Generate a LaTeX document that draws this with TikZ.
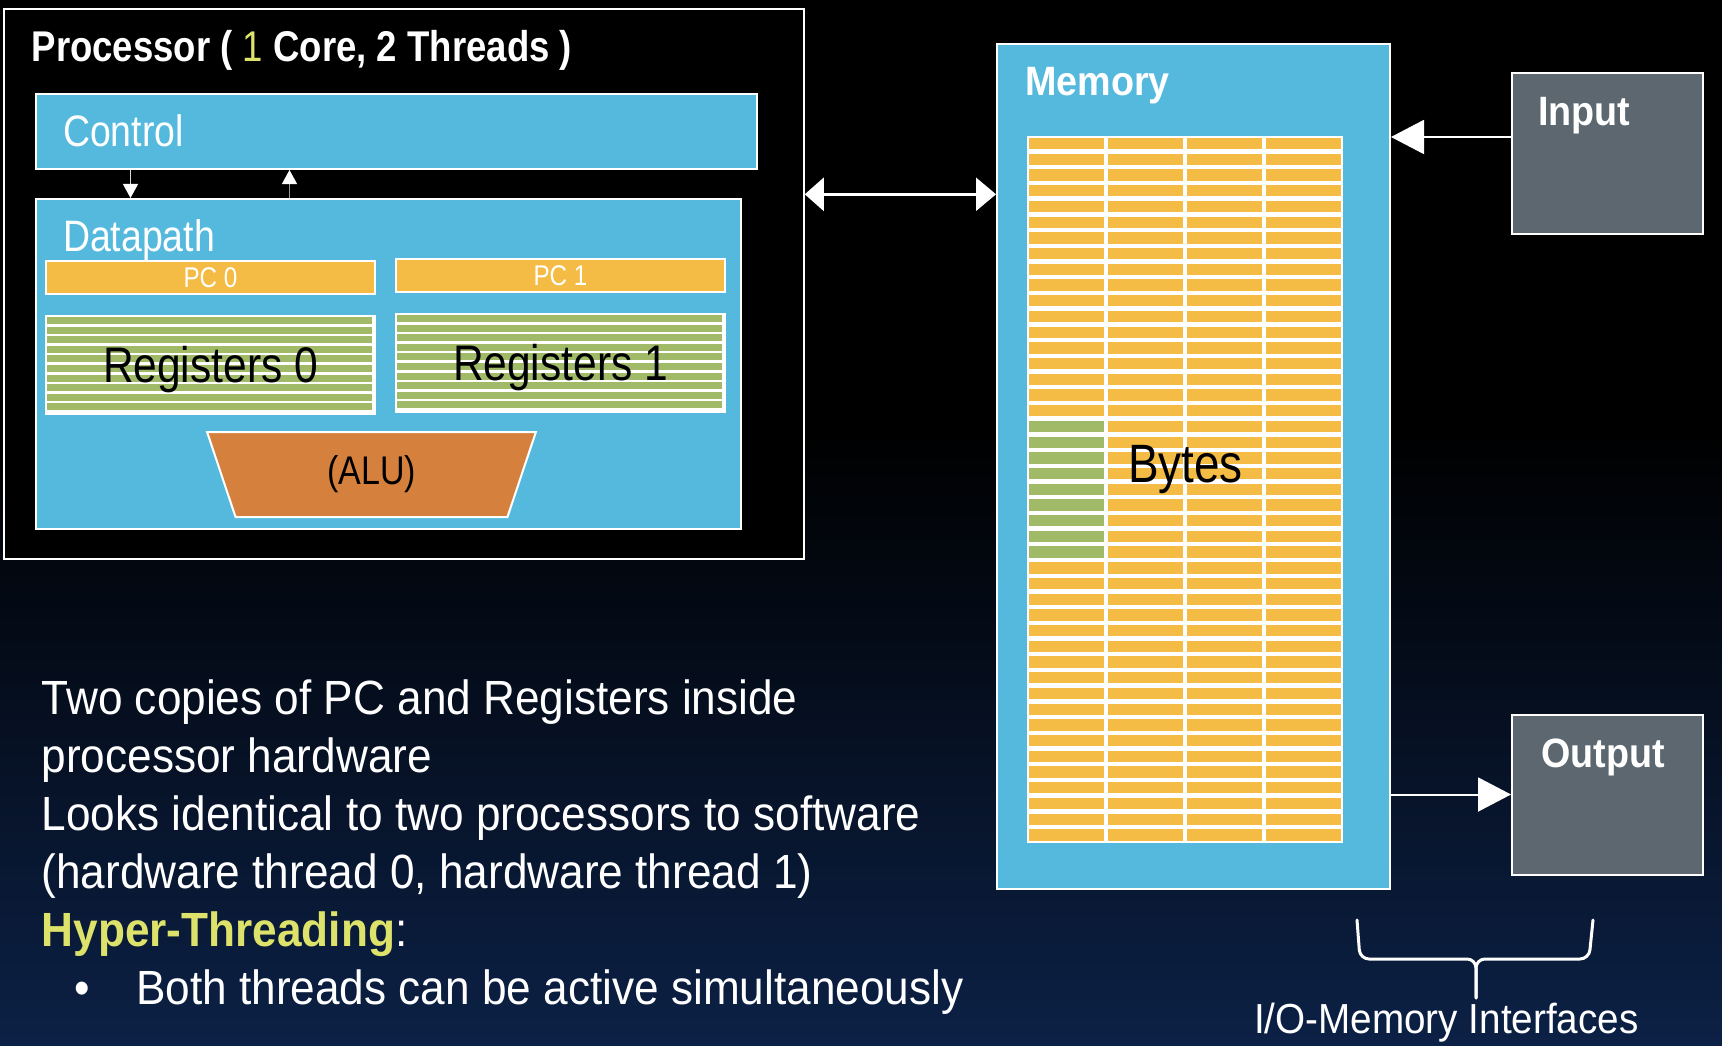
\documentclass[tikz,border=0pt]{standalone}
\usepackage{fontspec}
\setmainfont{Liberation Sans}[FakeStretch=0.92]
\newfontfamily\narrowfont{Liberation Sans}[FakeStretch=0.85]
\usepackage{xcolor}
\usetikzlibrary{shapes.geometric, arrows.meta, positioning}

\definecolor{boxblue}{RGB}{85,185,222}
\definecolor{cellorange}{RGB}{244,188,69}
\definecolor{reggreen}{RGB}{160,186,104}
\definecolor{aluorange}{RGB}{213,128,61}
\definecolor{iogray}{RGB}{92,103,112}
\definecolor{hyperyellow}{RGB}{221,226,106}
\definecolor{bgnavy}{RGB}{12,33,70}

\begin{document}
\begin{tikzpicture}[x=1pt, y=-1pt,
            hwbox/.style={draw=white, line width=2pt, rectangle, inner sep=0pt},
            bluebox/.style={hwbox, fill=boxblue},
            pcbox/.style={hwbox, fill=cellorange, minimum width=329pt, minimum height=33pt, text=white, font=\narrowfont\fontsize{28.5}{32}\selectfont},
            regbox/.style={hwbox, fill=white, minimum width=329pt, minimum height=98pt},
            iobox/.style={hwbox, fill=iogray, minimum width=191pt, minimum height=160pt},
            alubox/.style={hwbox, fill=aluorange, trapezium, trapezium angle=76, shape border rotate=180, trapezium stretches=true, minimum width=329pt, minimum height=85pt, text=black, font=\narrowfont\fontsize{40}{44}\selectfont},
            boxlabel/.style={anchor=base west, inner sep=0pt, text=white, font=\narrowfont\fontsize{44}{50}\selectfont},
            titlelabel/.style={boxlabel, font=\narrowfont\fontsize{43}{48}\selectfont\bfseries},
            iolabel/.style={boxlabel, font=\fontsize{41}{48}\selectfont\bfseries},
            regtext/.style={anchor=base, inner sep=0pt, text=black, font=\narrowfont\fontsize{50}{56}\selectfont},
            notetext/.style={anchor=base west, inner sep=0pt, text=white, font=\fontsize{48}{58}\selectfont},
            ctrlarrow/.style={line width=1.2pt, -{Triangle[length=14pt, width=15pt, color=white]}},
            busarrow/.style={draw=white, line width=2.5pt, {Triangle[length=19pt, width=33pt]}-{Triangle[length=20pt, width=33pt]}},
            ioarrow/.style={draw=white, line width=2pt, -{Triangle[length=33pt, width=34pt]}},
            bracepath/.style={draw=white, line width=3pt, rounded corners=9pt, line cap=round}]

            % Background
            \useasboundingbox (0,0) rectangle (1722,1046);
            \fill[black] (0,0) rectangle (1722,1046);
            \shade[top color=black, bottom color=bgnavy] (0,430) rectangle (1722,1046);

            % Processor
            \node (proc) [hwbox, line width=1.5pt, fill=black, minimum width=800pt, minimum height=550pt] at (404,284) {};
            \node (control) [bluebox, minimum width=721pt, minimum height=74.5pt] at (396,131.75) {};
            \node (datapath) [bluebox, minimum width=705pt, minimum height=330pt] at (388,364) {};
            \node (pc0) [pcbox] at (210.5,277.5) {PC 0};
            \node (pc1) [pcbox, right=19pt of pc0, yshift=2pt] {PC 1};
            \node (reg0) [regbox, below=20pt of pc0] {};
            \node (reg1) [regbox, below=20pt of pc1] {};
            \foreach \reg in {reg0, reg1}
                \foreach \k in {0,...,9}
                    \fill[reggreen] ([shift={(2, 2+\k*9.6)}]\reg.north west) rectangle ++(325, 7);
            \node (reg0text) [regtext] at ([yshift=-17.5pt]reg0.center) {Registers 0};
            \node (reg1text) [regtext] at ([yshift=-17pt]reg1.center) {Registers 1};
            \node (alu) [alubox] at (371.5,474.5) {(ALU)};

            \node (proctitle) [titlelabel] at (31.5,62) {Processor ( {\mdseries\color{hyperyellow}1} Core, 2 Threads )};
            \node (controltext) [boxlabel] at (63,147) {Control};
            \node (datapathtext) [boxlabel] at (63,251) {Datapath};

            % Memory
            \node (memory) [bluebox, minimum width=393pt, minimum height=845pt] at (1193.5,466.5) {};
            \node (cells) [fill=white, inner sep=0pt, minimum width=316pt, minimum height=707pt] at (1185,489.5) {};
            \foreach \c in {0,...,3}
                \foreach \r in {0,...,44}
                    \fill[cellorange] ([shift={(2+\c*79, 2.2+\r*15.711)}]cells.north west) rectangle ++(75, 11.3);
            \foreach \r in {18,...,26}
                \fill[reggreen] ([shift={(2, 2.2+\r*15.711)}]cells.north west) rectangle ++(75, 11.3);
            \node (memorytext) [iolabel] at (1025,96) {Memory};
            \node (bytes) [regtext, font=\narrowfont\fontsize{54}{60}\selectfont] at (1185.5,482) {Bytes};

            % Input / Output
            \node (input) [iobox] at (1607.5,153.5) {};
            \node (output) [iobox] at (1607.5,794.5) {};
            \node (inputtext) [iolabel] at (1538,126) {Input};
            \node (outputtext) [iolabel] at (1541,767) {Output};

            % Arrows
            % Control <-> Datapath
            \coordinate (ctrldown) at ([xshift=96pt]control.south west);
            \coordinate (ctrlup) at ([xshift=255pt]control.south west);
            \draw [ctrlarrow, draw=white!85!black] (ctrldown) -- (ctrldown |- datapath.north);
            \draw [ctrlarrow, draw=white!60!black] (ctrlup |- datapath.north) -- (ctrlup);

            % Processor <-> Memory
            \coordinate (busleft) at ([yshift=89.7pt]proc.east);
            \draw [busarrow] (busleft) -- (busleft -| memory.west);

            % Input -> Memory -> Output
            \coordinate (inport) at ([yshift=16.5pt]input.west);
            \draw [ioarrow] (inport) -- (inport -| memory.east);
            \draw [ioarrow] (memory.east |- output.west) -- (output.west);

            % Brace
            \draw [bracepath] (1357,920) -- (1360,959) -- (1476,959) -- (1476,998);
            \draw [bracepath] (1593,920) -- (1589,959) -- (1476,959) -- (1476,998);
            \node (iotext) [boxlabel, font=\fontsize{42}{50}\selectfont] at (1254,1033) {I/O-Memory Interfaces};

            % Notes
            \node (note1) [notetext] at (41.5,714) {Two copies of PC and Registers inside};
            \node (note2) [notetext] at ([yshift=-58pt]note1.base west) {processor hardware};
            \node (note3) [notetext] at ([yshift=-58pt]note2.base west) {Looks identical to two processors to software};
            \node (note4) [notetext] at ([yshift=-58pt]note3.base west) {(hardware thread 0, hardware thread 1)};
            \node (note5) [notetext] at ([yshift=-58pt]note4.base west) {{\bfseries\color{hyperyellow}Hyper-Threading}:};
            \node (bullet) [notetext] at (74,1004) {•};
            \node (note6) [notetext] at (136,1004) {Both threads can be active simultaneously};
        \end{tikzpicture}
\end{document}
